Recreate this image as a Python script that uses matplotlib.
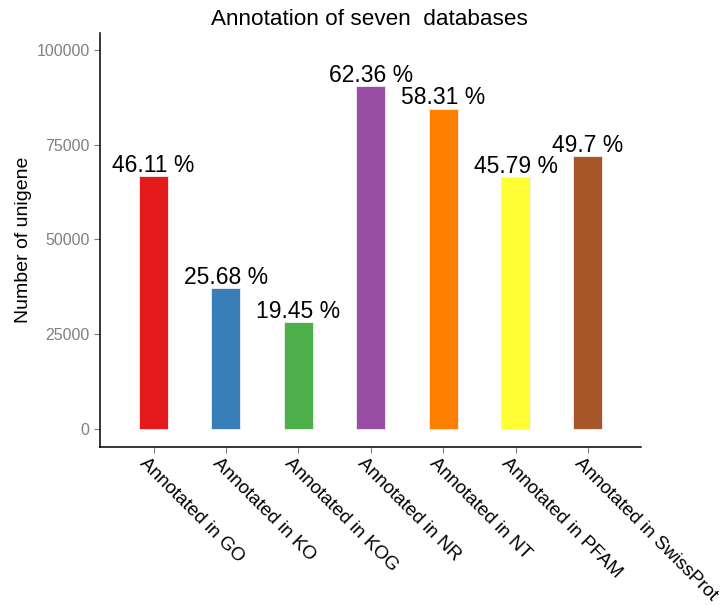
import matplotlib
matplotlib.use("Agg")
import matplotlib.pyplot as plt
import matplotlib.transforms as mtransforms

categories = ["Annotated in GO", "Annotated in KO", "Annotated in KOG", "Annotated in NR",
              "Annotated in NT", "Annotated in PFAM", "Annotated in SwissProt"]
counts = [66830, 37250, 28180, 90400, 84560, 66400, 72070]
pct_labels = ["46.11 %", "25.68 %", "19.45 %", "62.36 %", "58.31 %", "45.79 %", "49.7 %"]
colors = ["#E41A1C", "#377EB8", "#4DAF4A", "#984EA3", "#FF7F00", "#FFFF33", "#A65628"]
yticks = [0, 25000, 50000, 75000, 100000]

plt.rcParams['font.family'] = ['Liberation Sans', 'DejaVu Sans']

fig = plt.figure(figsize=(7.21, 6.05), dpi=100)
ax = fig.add_axes([0.1387, 0.2612, 0.751, 0.6843])

x = list(range(len(categories)))
ax.bar(x, counts, width=0.4, color=colors, edgecolor="#f0f0f0", linewidth=0.6)

for xi, c, lab in zip(x, counts, pct_labels):
    ax.annotate(lab, (xi, c), xytext=(0, 3), textcoords="offset points",
                ha="center", va="baseline", fontsize=16.5, color="black")

ax.set_xlim(-0.74, 6.74)
ax.set_ylim(-4750, 104500)
ax.set_xticks(x)
ax.set_xticklabels(categories, rotation=-45, ha="left", rotation_mode="anchor",
                   fontsize=13.6, color="black")
ax.set_yticks(yticks)
ax.set_yticklabels([str(v) for v in yticks], fontsize=11.5, color="#808080")
ax.tick_params(axis="both", direction="out", length=4.5, width=0.8, color="#7f7f7f")
ax.tick_params(axis="x", pad=1)
ax.tick_params(axis="y", pad=3)

# nudge rotated labels a bit to the left, like the reference
shift = mtransforms.ScaledTranslation(-0.05, 0, fig.dpi_scale_trans)
for lbl in ax.get_xticklabels():
    lbl.set_transform(lbl.get_transform() + shift)

for side in ["top", "right"]:
    ax.spines[side].set_visible(False)
for side in ["left", "bottom"]:
    ax.spines[side].set_linewidth(1.1)
    ax.spines[side].set_color("black")

ax.set_ylabel("Number of unigene", fontsize=14, labelpad=3)
fig.text(0.513, 0.968, "Annotation of seven  databases", ha="center", va="center", fontsize=16.2)

fig.savefig("out.png", dpi=100)
